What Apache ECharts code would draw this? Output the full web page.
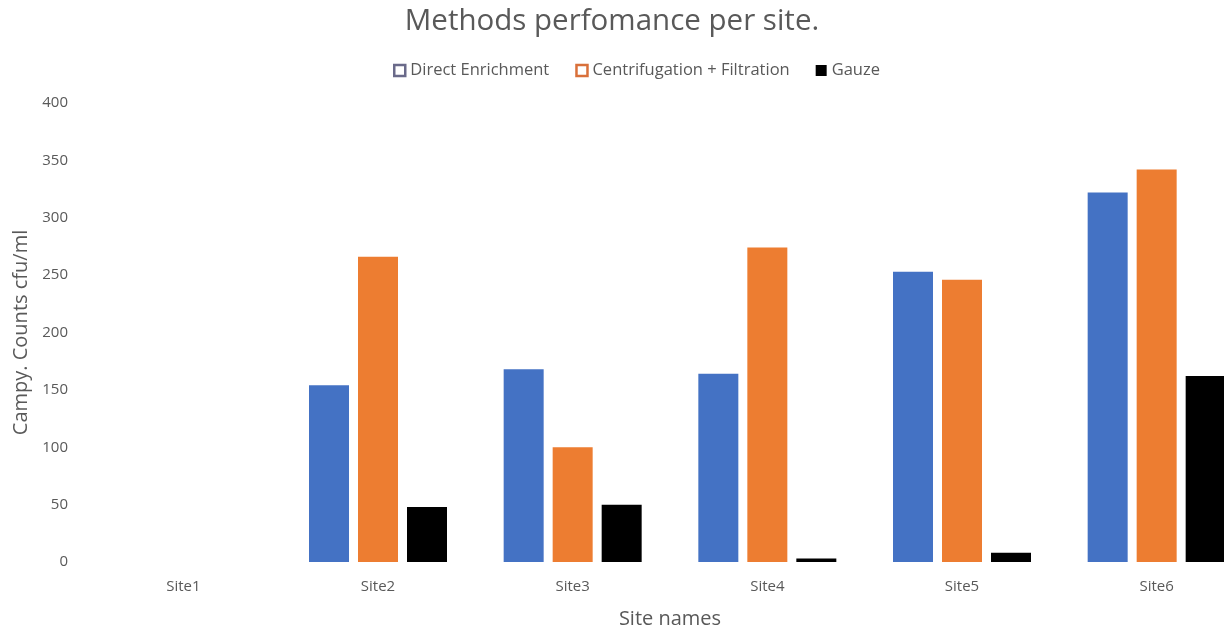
<!DOCTYPE html>
<html><head><meta charset="utf-8">
<script src="https://cdn.jsdelivr.net/npm/echarts@6/dist/echarts.min.js"></script>
<style>html,body{margin:0;padding:0;background:#fff}#c{width:1224px;height:630px}</style>
</head><body><div id="c"></div>
<script>
const categories = ['Site1','Site2','Site3','Site4','Site5','Site6'];
const directEnrichment = [0,154,168,164,253,322];
const centrifugationFiltration = [0,266,100,274,246,342];
const gauze = [0,48,50,3,8,162];
const yTicks = [0,50,100,150,200,250,300,350,400];

const chart = echarts.init(document.getElementById('c'));
const font = '"Open Sans", "Liberation Sans", sans-serif';
const grey = '#595959';
function bar(name, data, color){
  return {name, type:'bar', data, barWidth:40, barGap:'22.5%',
    itemStyle:{color, borderWidth:0}};
}
chart.setOption({
  animation:false,
  textStyle:{fontFamily:font},
  title:{text:'Methods perfomance per site.', left:'center', top:2,
    textStyle:{fontFamily:font, fontSize:29.5, fontWeight:'normal', color:grey}},
  legend:{top:57, left:388, itemWidth:11, itemHeight:11, itemGap:26,
    textStyle:{fontFamily:font, fontSize:16.5, color:grey},
    data:[
      {name:'Direct Enrichment', icon:'rect', itemStyle:{color:'#fff', borderColor:'#6a6a8a', borderWidth:2.5}},
      {name:'Centrifugation + Filtration', icon:'rect', itemStyle:{color:'#fff', borderColor:'#d9703a', borderWidth:2.5}},
      {name:'Gauze', icon:'rect', itemStyle:{color:'#000'}}
    ]},
  grid:{left:86, width:1168, top:103, bottom:68, outerBoundsMode:'none', containLabel:false},
  xAxis:{type:'category', data:categories,
    axisLine:{show:false}, axisTick:{show:false},
    axisLabel:{fontFamily:font, fontSize:15, color:grey, margin:17},
    name:'Site names', nameLocation:'middle', nameGap:47,
    nameTextStyle:{fontFamily:font, fontSize:20, color:grey}},
  yAxis:{type:'value', min:yTicks[0], max:yTicks[yTicks.length-1], interval:50,
    axisLine:{show:false}, axisTick:{show:false}, splitLine:{show:false},
    axisLabel:{fontFamily:font, fontSize:15, color:grey, margin:18},
    name:'Campy. Counts cfu/ml', nameLocation:'middle', nameGap:50,
    nameTextStyle:{fontFamily:font, fontSize:20, color:grey}},
  series:[
    bar('Direct Enrichment', directEnrichment, '#4472C4'),
    bar('Centrifugation + Filtration', centrifugationFiltration, '#ED7D31'),
    bar('Gauze', gauze, '#000000')
  ]
});
</script></body></html>
